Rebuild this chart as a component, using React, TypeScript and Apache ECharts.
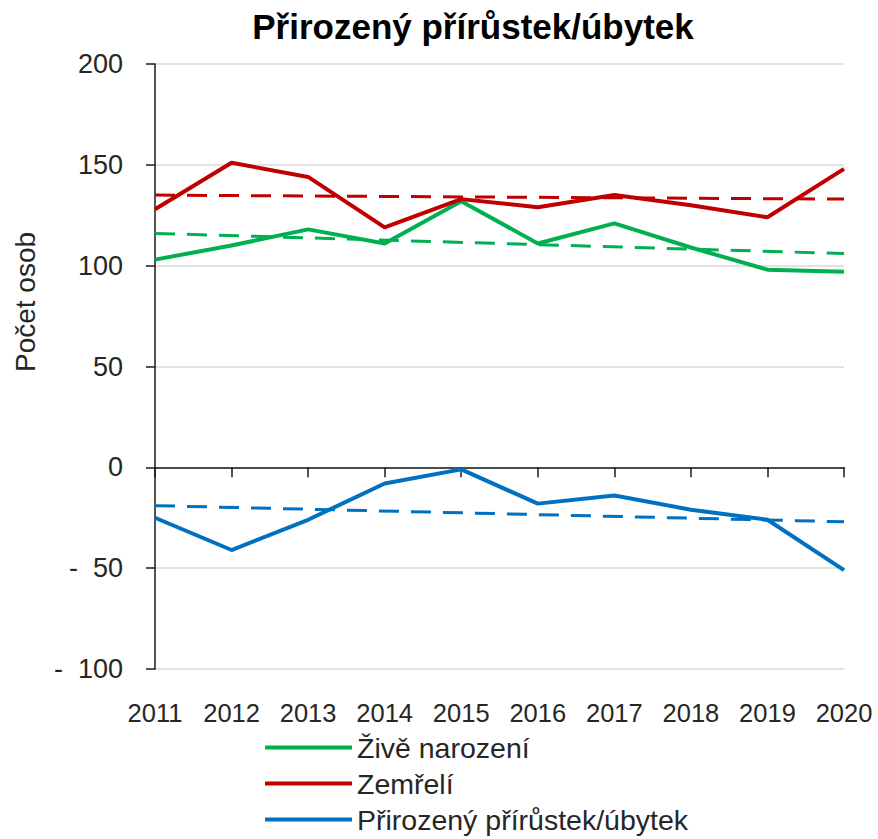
import React, { useEffect, useRef } from "react";
import * as echarts from "echarts";

const years = ["2011", "2012", "2013", "2014", "2015", "2016", "2017", "2018", "2019", "2020"];
const births = [103, 110, 118, 111, 132, 111, 121, 109, 98, 97];
const deaths = [128, 151, 144, 119, 133, 129, 135, 130, 124, 148];
const naturalChange = [-25, -41, -26, -8, -1, -18, -14, -21, -26, -51];
// trend line end points (first and last year)
const birthsTrend = [116, 106];
const deathsTrend = [135, 133];
const changeTrend = [-19, -27];
const yTicks = { min: -100, max: 200, interval: 50 };

const NAMES = ["Živě narození", "Zemřelí", "Přirozený přírůstek/úbytek"];
const COLORS = ["#00B050", "#C00000", "#0070C0"];
const FONT = "'Liberation Sans', Arial, sans-serif";

export default function App() {
  const ref = useRef<HTMLDivElement>(null);
  useEffect(() => {
    if (!ref.current) return;
    const chart = echarts.init(ref.current, null, { renderer: "svg" });
    const last = years[years.length - 1];
    const mkTrend = (vals: number[], color: string) => ({
      type: "line",
      data: [
        [years[0], vals[0]],
        [last, vals[1]],
      ],
      symbol: "none",
      silent: true,
      lineStyle: { color, width: 3, type: [20, 12] },
      z: 2,
    });
    const mkLine = (name: string, data: number[], color: string) => ({
      type: "line",
      name,
      data,
      symbol: "none",
      lineStyle: { color, width: 4 },
      itemStyle: { color },
      z: 3,
    });
    chart.setOption({
      animation: false,
      backgroundColor: "#ffffff",
      title: {
        text: "Přirozený přírůstek/úbytek",
        left: 468,
        textAlign: "center",
        top: 4,
        textStyle: { fontFamily: FONT, fontSize: 35, fontWeight: "bold", color: "#000" },
      },
      legend: {
        data: NAMES,
        orient: "vertical",
        left: 265,
        top: 731,
        padding: 0,
        itemWidth: 87,
        itemHeight: 4,
        itemGap: 3,
        icon: "rect",
        textStyle: { fontFamily: FONT, fontSize: 28.5, color: "#262626", lineHeight: 33 },
      },
      graphic: [
        {
          type: "text",
          x: 25,
          y: 302,
          rotation: Math.PI / 2,
          style: {
            text: "Počet osob",
            fontFamily: FONT,
            fontSize: 28,
            fill: "#262626",
            textAlign: "center",
            textVerticalAlign: "middle",
          },
        },
      ],
      grid: { left: 155, right: 34, top: 64, bottom: 170, outerBoundsMode: "none" },
      xAxis: [
        {
          type: "category",
          data: years,
          boundaryGap: false,
          axisLine: { show: false, onZero: false },
          axisTick: { show: false },
          axisLabel: { fontFamily: FONT, fontSize: 25.5, color: "#262626", margin: 31, interval: 0 },
        },
        {
          type: "category",
          data: years,
          boundaryGap: false,
          position: "bottom",
          axisLine: { show: true, onZero: true, lineStyle: { color: "#1a1a1a", width: 1.5 } },
          axisTick: { show: true, length: 10, interval: 0, lineStyle: { color: "#1a1a1a", width: 1.5 } },
          axisLabel: { show: false },
        },
      ],
      yAxis: {
        type: "value",
        min: yTicks.min,
        max: yTicks.max,
        interval: yTicks.interval,
        axisLine: { show: true, lineStyle: { color: "#1a1a1a", width: 1.5 } },
        axisTick: { show: true, length: 9, lineStyle: { color: "#1a1a1a", width: 1.5 } },
        axisLabel: {
          fontFamily: FONT,
          fontSize: 27,
          color: "#262626",
          margin: 32,
          formatter: (v: number) => (v < 0 ? "-  " + Math.abs(v) : String(v)),
        },
        splitLine: { show: true, lineStyle: { color: "#d9d9d9", width: 1.5 } },
      },
      series: [
        mkTrend(birthsTrend, COLORS[0]),
        mkTrend(deathsTrend, COLORS[1]),
        mkTrend(changeTrend, COLORS[2]),
        mkLine(NAMES[0], births, COLORS[0]),
        mkLine(NAMES[1], deaths, COLORS[1]),
        mkLine(NAMES[2], naturalChange, COLORS[2]),
      ],
    });
    return () => chart.dispose();
  }, []);
  return <div ref={ref} style={{ width: 878, height: 839, position: "absolute", left: 0, top: 0 }} />;
}
